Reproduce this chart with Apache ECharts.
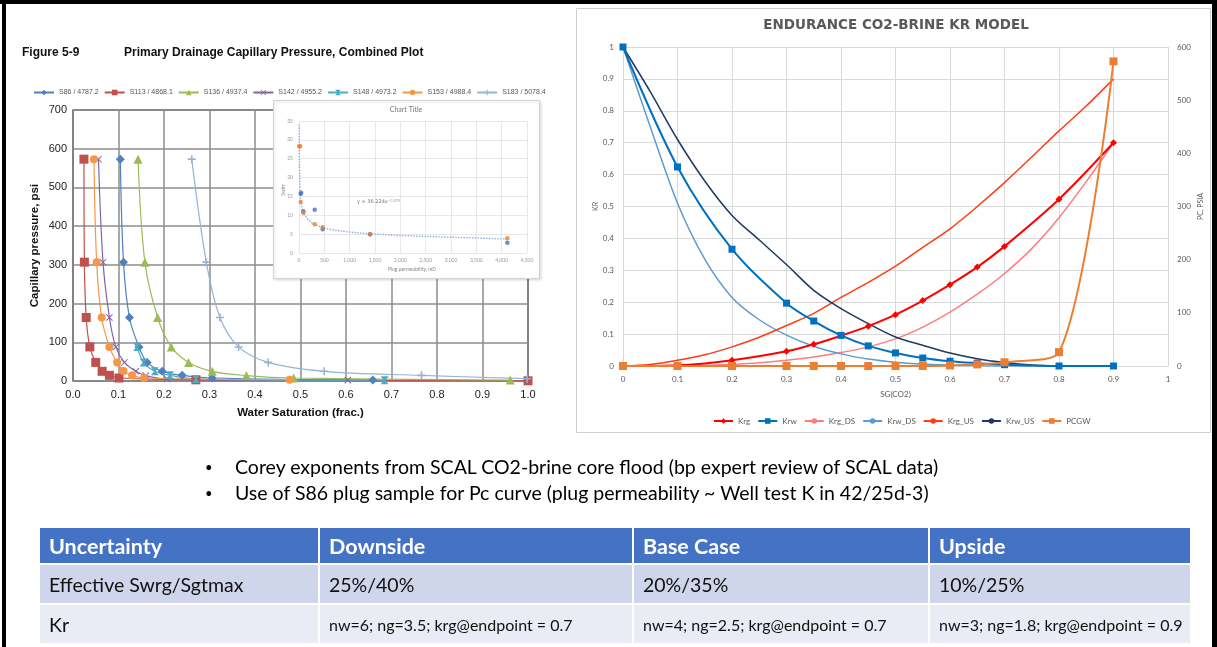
<!DOCTYPE html>
<html><head><meta charset="utf-8">
<script src="https://cdn.jsdelivr.net/npm/echarts/dist/echarts.min.js"></script>
<style>
html,body{margin:0;padding:0;background:#fff;width:1217px;height:647px;overflow:hidden;}
#c{position:absolute;left:0;top:0;width:1217px;height:647px;}
#bul{position:absolute;left:205px;top:454px;font-family:Lato,sans-serif;font-size:19.5px;line-height:26px;color:#000;z-index:5;}
#bul span{display:inline-block;width:30px;font-size:13px;vertical-align:top;}
#tbl{position:absolute;left:38px;top:526px;width:1152px;table-layout:fixed;border-collapse:collapse;font-family:Lato,sans-serif;z-index:5;}
#tbl td{border:2px solid #fff;padding:0 0 0 9px;white-space:nowrap;overflow:hidden;}
#tbl tr.h td{background:#4472C4;color:#fff;font-weight:bold;font-size:21.5px;height:35px;}
#tbl tr.r1 td{background:#CFD5EA;color:#111;font-size:19.5px;height:38px;}
#tbl tr.r2 td{background:#E9EBF5;color:#111;font-size:16px;height:38px;}
#tbl tr.r2 td.k{font-size:19.5px;}
</style>
</head><body>
<div id="c"></div>
<div id="bul">
<div><span>•</span>Corey exponents from SCAL CO2-brine core flood (bp expert review of SCAL data)</div>
<div><span>•</span>Use of S86 plug sample for Pc curve (plug permeability ~ Well test K in 42/25d-3)</div>
</div>
<table id="tbl">
<colgroup><col style="width:280px"><col style="width:314px"><col style="width:296px"><col style="width:262px"></colgroup>
<tr class="h"><td>Uncertainty</td><td>Downside</td><td>Base Case</td><td>Upside</td></tr>
<tr class="r1"><td>Effective Swrg/Sgtmax</td><td>25%/40%</td><td>20%/35%</td><td>10%/25%</td></tr>
<tr class="r2"><td class="k">Kr</td><td>nw=6; ng=3.5; krg@endpoint = 0.7</td><td>nw=4; ng=2.5; krg@endpoint = 0.7</td><td>nw=3; ng=1.8; krg@endpoint = 0.9</td></tr>
</table>
<script>
// ---------- Left chart: capillary pressure (Sw, Pc psi) ----------
const leftNames = ['S86 / 4787.2','S113 / 4868.1','S136 / 4937.4','S142 / 4955.2','S148 / 4973.2','S153 / 4988.4','S183 / 5078.4'];
const s86  = [[0.104,573],[0.111,307],[0.124,164],[0.145,88],[0.163,48],[0.196,25],[0.240,14.6],[0.306,7.7],[0.659,2.5]];
const s113 = [[0.024,573],[0.025,307],[0.029,164],[0.037,88],[0.050,48],[0.064,25],[0.080,14.6],[0.101,7.7],[0.270,3],[1.0,0.5]];
const s136 = [[0.143,573],[0.158,307],[0.186,164],[0.216,88],[0.254,48],[0.306,25],[0.381,14],[0.485,7.7],[0.961,2.5]];
const s142 = [[0.056,573],[0.066,307],[0.080,164],[0.094,88],[0.113,48],[0.138,25],[0.160,14],[0.207,5],[0.604,2]];
const s148 = [[0.141,88],[0.155,48],[0.180,25],[0.213,14.6],[0.270,5],[0.685,2]];
const s153 = [[0.046,573],[0.052,307],[0.063,164],[0.080,88],[0.097,48],[0.111,26],[0.130,14.6],[0.156,7.7],[0.476,3.5]];
const s183 = [[0.261,573],[0.293,307],[0.323,164],[0.364,88],[0.429,48],[0.552,25],[0.766,14.6],[0.998,6]];
// ---------- Inset: Swirr vs plug permeability ----------
const insetBlue   = [[33,15.7],[42,16.0],[85,11.1],[310,11.5],[468,6.3],[1403,5.0],[4112,2.7]];
const insetOrange = [[5,28.3],[20,28.3],[33,13.5],[85,10.7],[310,7.6],[468,6.8],[1403,5.0],[4112,3.9]];
const insetTrend  = [[3,34],[8,24],[15,19.5],[30,14.6],[60,11.9],[100,10.4],[200,8.6],[300,7.7],[500,6.6],[800,5.9],[1200,5.3],[1800,4.8],[2500,4.4],[3200,4.1],[4100,3.7]];
// ---------- Right chart: Kr model ----------
const sgMain = [0,0.1,0.2,0.3,0.35,0.4,0.45,0.5,0.55,0.6,0.65,0.7,0.8,0.9];
const krg    = [0,0.002,0.018,0.046,0.068,0.095,0.125,0.161,0.205,0.255,0.31,0.375,0.523,0.70];
const krw    = [1,0.624,0.366,0.197,0.141,0.096,0.063,0.041,0.025,0.015,0.009,0.004,0,0];
const pcgw   = [0,0,0,0,0,0,0,0,0,1,3,7,26,573];
const sgFine = [0,0.05,0.1,0.15,0.2,0.25,0.3,0.35,0.4,0.45,0.5,0.55,0.6,0.65,0.7,0.75,0.8,0.85,0.9];
const krgDS  = [0,0,0.001,0.002,0.005,0.01,0.018,0.028,0.042,0.06,0.085,0.122,0.169,0.225,0.29,0.368,0.465,0.578,0.70];
const krwDS  = [1,0.75,0.51,0.335,0.215,0.145,0.097,0.062,0.038,0.022,0.012,0.006,0.003,0.001,0,0];
const krgUS  = [0,0.005,0.018,0.035,0.06,0.09,0.127,0.165,0.215,0.262,0.313,0.372,0.43,0.50,0.575,0.655,0.737,0.815,0.90];
const krwUS  = [1,0.86,0.71,0.58,0.472,0.395,0.318,0.237,0.18,0.133,0.091,0.065,0.041,0.023,0.011,0.003,0];
const rightNames = ['Krg','Krw','Krg_DS','Krw_DS','Krg_US','Krw_US','PCGW'];

const zip = (xs, ys) => ys.map((y, i) => [xs[i], y]);
const LF = 'Liberation Sans, Arial, sans-serif';
const RF = 'Lato, sans-serif';

const X_SYM = 'path://M0,1 L1,0 L5,4 L9,0 L10,1 L6,5 L10,9 L9,10 L5,6 L1,10 L0,9 L4,5Z';
const PLUS_SYM = 'path://M4,0 H6 V4 H10 V6 H6 V10 H4 V6 H0 V4 H4 Z';
const HG_SYM = 'path://M0,0 L10,0 L6,5 L10,10 L0,10 L4,5 Z';

const leftData = [s86, s113, s136, s142, s148, s153, s183];
const leftColors = ['#4F81BD','#C0504D','#9BBB59','#8064A2','#4BACC6','#F79646','#95B3D7'];
const leftSyms = ['diamond','rect','triangle',X_SYM,HG_SYM,'circle',PLUS_SYM];
const leftSizes = [9,9,9,7,8,8,8];

const series = [];
leftData.forEach((d, i) => {
  series.push({
    name: leftNames[i], type: 'line', xAxisIndex: 0, yAxisIndex: 0, data: d,
    smooth: 0.35, symbol: leftSyms[i], symbolSize: leftSizes[i], showAllSymbol: true,
    itemStyle: {color: leftColors[i]}, lineStyle: {color: leftColors[i], width: 1.2},
    z: 2
  });
});
// inset series
series.push({type:'line', xAxisIndex:1, yAxisIndex:1, data: insetTrend, smooth:0.3, symbol:'none',
  lineStyle:{color:'#8FAADC', width:1.4, type:'dotted'}, z:12});
series.push({type:'scatter', xAxisIndex:1, yAxisIndex:1, data: insetBlue, symbolSize:4.5, itemStyle:{color:'#4472C4'}, z:13});
series.push({type:'scatter', xAxisIndex:1, yAxisIndex:1, data: insetOrange, symbolSize:4.5, itemStyle:{color:'#ED7D31'}, z:13});
// right series
const rc = {Krg:'#FF0000', Krw:'#0070C0', Krg_DS:'#FF7C80', Krw_DS:'#5B9BD5', Krg_US:'#FF3D14', Krw_US:'#203864', PCGW:'#ED7D31'};
function rs(name, data, opts) {
  return Object.assign({name, type:'line', xAxisIndex:2, yAxisIndex:2, data, smooth:0.3, symbol:'none',
    itemStyle:{color:rc[name]}, lineStyle:{color:rc[name], width:1.5}, z:3}, opts || {});
}
series.push(rs('Krg', zip(sgMain, krg), {symbol:'diamond', symbolSize:7, lineStyle:{color:rc.Krg,width:2}, z:5}));
series.push(rs('Krw', zip(sgMain, krw), {symbol:'rect', symbolSize:7, lineStyle:{color:rc.Krw,width:2}, z:5}));
series.push(rs('Krg_DS', zip(sgFine, krgDS)));
series.push(rs('Krw_DS', zip(sgFine, krwDS)));
series.push(rs('Krg_US', zip(sgFine, krgUS)));
series.push(rs('Krw_US', zip(sgFine, krwUS)));
series.push(rs('PCGW', zip(sgMain, pcgw), {yAxisIndex:3, symbol:'rect', symbolSize:8, lineStyle:{color:rc.PCGW,width:2}, z:6}));

const chart = echarts.init(document.getElementById('c'), null, {renderer:'canvas', width:1217, height:647});
chart.setOption({
  animation: false,
  backgroundColor: '#fff',
  legend: [
    {data: leftNames, left: 28, top: 84, itemWidth: 20, itemHeight: 7, itemGap: 5,
     textStyle: {fontSize: 7, color: '#555', fontFamily: LF}},
    {data: rightNames, left: 708, top: 412, itemWidth: 19, itemHeight: 7, itemGap: 7,
     textStyle: {fontSize: 8, color: '#595959', fontFamily: RF}}
  ],
  grid: [
    {left: 73, top: 110, width: 455, height: 271, show: true, borderColor: '#000', borderWidth: 1.2, backgroundColor: 'transparent'},
    {left: 299, top: 121, width: 228, height: 132},
    {left: 623, top: 47, width: 545, height: 319}
  ],
  xAxis: [
    {gridIndex: 0, type: 'value', min: 0, max: 1, interval: 0.1,
     axisLine: {show: false}, axisTick: {show: false},
     axisLabel: {fontSize: 11, color: '#222', fontFamily: LF, margin: 8, formatter: v => v.toFixed(1)},
     splitLine: {lineStyle: {color: '#8c8c8c', width: 1.5}},
     name: 'Water Saturation (frac.)', nameLocation: 'middle', nameGap: 26,
     nameTextStyle: {fontSize: 11.5, fontWeight: 'bold', color: '#111', fontFamily: LF}},
    {gridIndex: 1, type: 'value', min: 0, max: 4500, interval: 500, z: 11,
     axisLine: {show: false}, axisTick: {show: false},
     axisLabel: {fontSize: 5, color: '#999', margin: 5, fontFamily: RF},
     splitLine: {lineStyle: {color: '#e2e2e2', width: 0.8}}},
    {gridIndex: 2, type: 'value', min: 0, max: 1, interval: 0.1,
     axisLine: {show: true, lineStyle: {color: '#d9d9d9'}}, axisTick: {show: false},
     axisLabel: {fontSize: 8, color: '#595959', margin: 9, fontFamily: RF, formatter: v => String(Math.round(v*10)/10)},
     splitLine: {lineStyle: {color: '#d9d9d9', width: 1}},
     name: 'SG(CO2)', nameLocation: 'middle', nameGap: 24,
     nameTextStyle: {fontSize: 8, color: '#595959', fontFamily: RF}}
  ],
  yAxis: [
    {gridIndex: 0, type: 'value', min: 0, max: 700, interval: 100,
     axisLine: {show: false}, axisTick: {show: false},
     axisLabel: {fontSize: 11, color: '#222', fontFamily: LF, margin: 6},
     splitLine: {lineStyle: {color: '#8c8c8c', width: 1.5}},
     name: 'Capillary pressure, psi', nameLocation: 'middle', nameGap: 32, nameRotate: 90,
     nameTextStyle: {fontSize: 11.5, fontWeight: 'bold', color: '#111', fontFamily: LF}},
    {gridIndex: 1, type: 'value', min: 0, max: 35, interval: 5, z: 11,
     axisLine: {show: false}, axisTick: {show: false},
     axisLabel: {fontSize: 5, color: '#999', margin: 6, fontFamily: RF},
     splitLine: {lineStyle: {color: '#e2e2e2', width: 0.8}}},
    {gridIndex: 2, type: 'value', min: 0, max: 1, interval: 0.1, position: 'left',
     axisLine: {show: false}, axisTick: {show: false},
     axisLabel: {fontSize: 8, color: '#595959', margin: 9, fontFamily: RF, formatter: v => String(Math.round(v*10)/10)},
     splitLine: {lineStyle: {color: '#d9d9d9', width: 1}},
     name: 'KR', nameLocation: 'middle', nameGap: 24, nameRotate: 90,
     nameTextStyle: {fontSize: 7, color: '#595959', fontFamily: RF}},
    {gridIndex: 2, type: 'value', min: 0, max: 600, interval: 100, position: 'right',
     axisLine: {show: false}, axisTick: {show: false},
     axisLabel: {fontSize: 8, color: '#595959', margin: 9, fontFamily: RF},
     splitLine: {show: false},
     name: 'PC, PSIA', nameLocation: 'middle', nameGap: 29, nameRotate: 90,
     nameTextStyle: {fontSize: 7, color: '#595959', fontFamily: RF}}
  ],
  graphic: [
    // outer black frame
    {type: 'rect', shape: {x: 0, y: 0, width: 1217, height: 4}, style: {fill: '#000'}, z: 50},
    {type: 'rect', shape: {x: 2, y: 0, width: 4, height: 647}, style: {fill: '#000'}, z: 50},
    {type: 'rect', shape: {x: 1212, y: 0, width: 5, height: 647}, style: {fill: '#000'}, z: 50},
    // right chart box
    {type: 'rect', shape: {x: 576.5, y: 8.5, width: 634, height: 424}, style: {fill: 'none', stroke: '#d0d0d0', lineWidth: 1}, z: 1},
    {type: 'text', x: 896, y: 25, style: {text: 'ENDURANCE CO2-BRINE KR MODEL', fontSize: 13.5, fontWeight: 'bold', fontFamily: 'DejaVu Sans, sans-serif', fill: '#595959', align: 'center', verticalAlign: 'middle'}, z: 5},
    // left chart title
    {type: 'text', x: 22, y: 53, style: {text: 'Figure 5-9', fontSize: 12, fontWeight: 'bold', fontFamily: LF, fill: '#111', verticalAlign: 'middle'}, z: 5},
    {type: 'text', x: 124, y: 53, style: {text: 'Primary Drainage Capillary Pressure, Combined Plot', fontSize: 12, fontWeight: 'bold', fontFamily: LF, fill: '#111', verticalAlign: 'middle'}, z: 5},
    // inset box
    {type: 'rect', shape: {x: 273.5, y: 100.5, width: 266, height: 178}, style: {fill: '#fff', stroke: '#d4d4d4', lineWidth: 1, shadowBlur: 3, shadowColor: 'rgba(0,0,0,0.15)', shadowOffsetX: 1, shadowOffsetY: 1}, z: 10},
    {type: 'text', x: 406, y: 110, style: {text: 'Chart Title', fontSize: 7, fontFamily: RF, fill: '#777', align: 'center', verticalAlign: 'middle'}, z: 14},
    {type: 'text', x: 412, y: 269, style: {text: 'Plug permeability, mD', fontSize: 5, fontFamily: RF, fill: '#888', align: 'center', verticalAlign: 'middle'}, z: 14},
    {type: 'text', x: 283, y: 190, rotation: Math.PI/2, style: {text: 'Swirr', fontSize: 5, fontFamily: RF, fill: '#888', align: 'center', verticalAlign: 'middle'}, z: 14},
    {type: 'text', x: 357, y: 202, style: {text: 'y = 36.224x⁻⁰·²⁷⁵', fontSize: 5, fontFamily: 'DejaVu Sans, sans-serif', fill: '#777', verticalAlign: 'middle'}, z: 14}
  ],
  series: series
});
</script>
</body></html>
